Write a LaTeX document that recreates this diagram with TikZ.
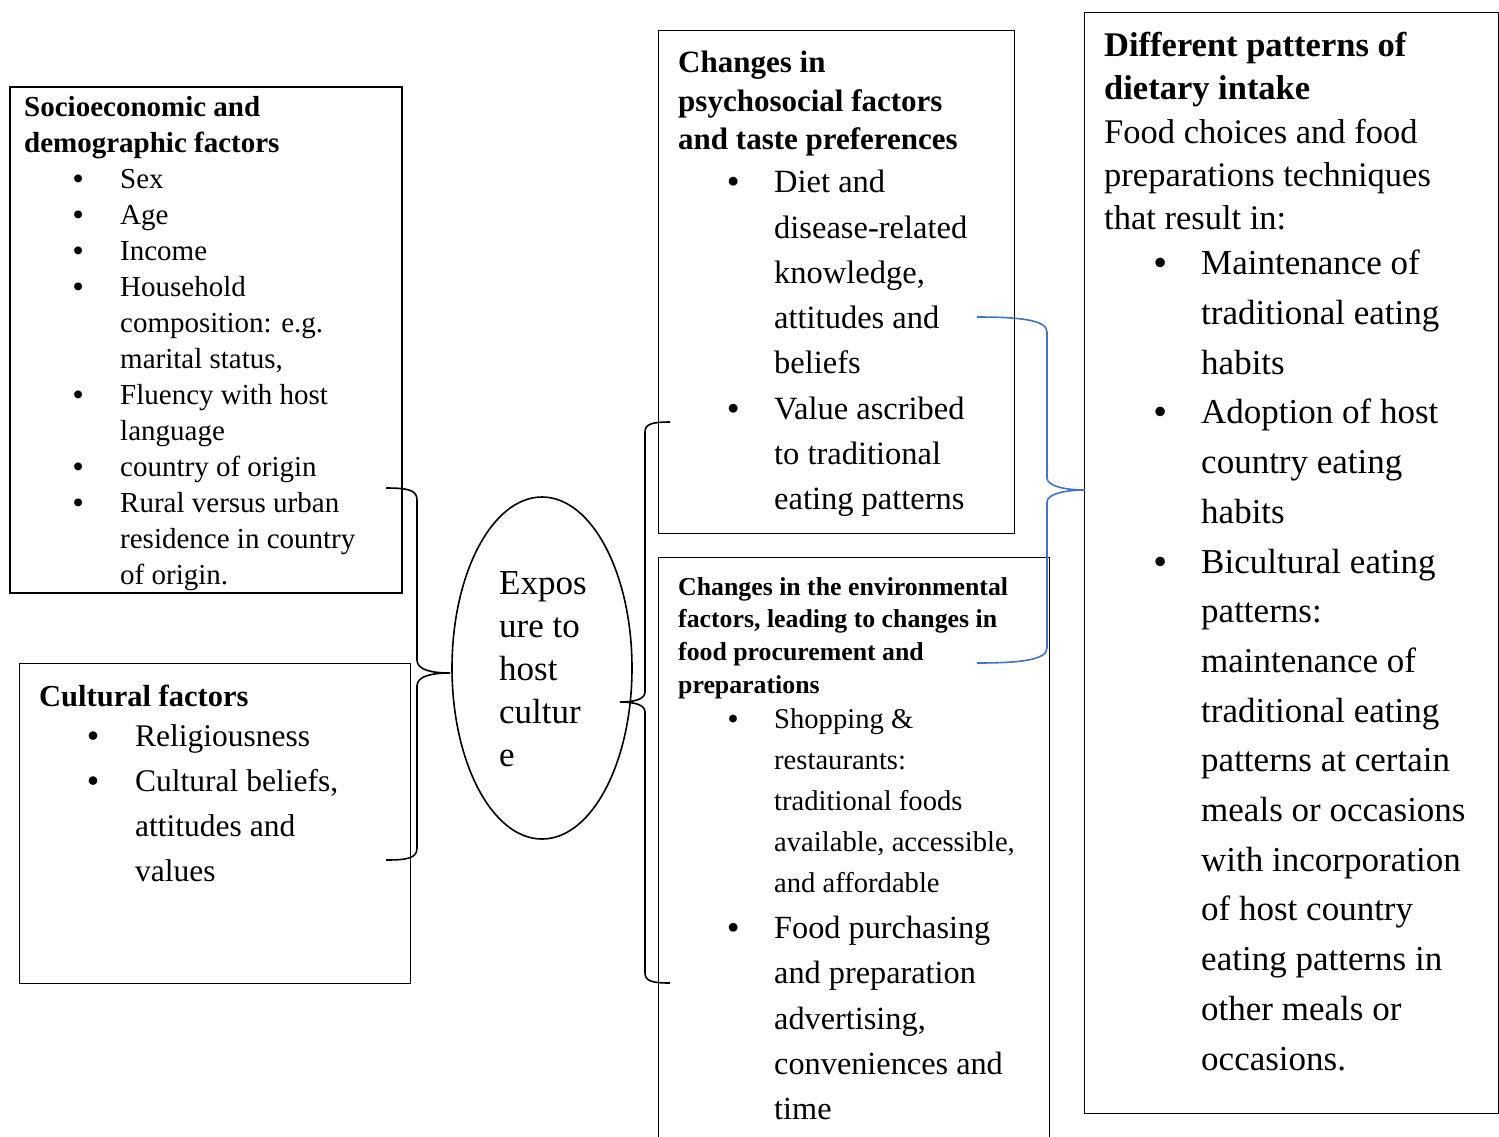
\documentclass[tikz,border=0pt]{standalone}
\usepackage{fontspec}
\setmainfont{Liberation Serif}
\usepackage{xcolor}
\usetikzlibrary{shapes.geometric}
\definecolor{bracecol}{HTML}{4472C4}
\newlength\bulw
\newcommand{\bi}{\makebox[\bulw][l]{\textbf{\textbullet}}}
\newcommand{\co}{\hspace*{\bulw}}
\newcommand{\fs}[2]{\fontsize{#1}{#2}\selectfont}

\begin{document}
\begin{tikzpicture}[x=1pt,y=-1pt,
  box/.style={draw,line width=1.3pt,anchor=north west,inner sep=0pt},
  txt/.style={anchor=north west,inner sep=0pt,align=left},
  brace/.style={line width=1.6pt},
]
\useasboundingbox (0,0) rectangle (1499,1136);

% boxes
\node[box,line width=1.8pt,minimum width=392pt,minimum height=506pt] (socio) at (9,86) {};
\node[box,minimum width=391pt,minimum height=320pt] (cult) at (19,663) {};
\node[box,minimum width=356pt,minimum height=503pt] (psych) at (658,30) {};
\node[box,minimum width=391pt,minimum height=600pt] (env) at (658,557) {};
\node[box,minimum width=414pt,minimum height=1101pt] (diet) at (1084,12) {};
\node[ellipse,draw,line width=1.6pt,minimum width=180pt,minimum height=342pt] (expo) at (542,668) {};

% socioeconomic factors
\node[txt,font=\fs{29}{36}\bfseries] (sociohead) at (24,96)
  {Socioeconomic and\\demographic factors};
\setlength\bulw{47pt}
\node[txt,font=\fs{29}{36}] (socioitems) at (73,169)
  {\bi Sex\\ \bi Age\\ \bi Income\\ \bi Household\\ \co composition: e.g.\\
   \co marital status,\\ \bi Fluency with host\\ \co language\\
   \bi country of origin\\ \bi Rural versus urban\\ \co residence in country\\
   \co of origin.};

% cultural factors
\node[txt,font=\fs{30.5}{40}\bfseries] (culthead) at (39,685) {Cultural factors};
\setlength\bulw{47.5pt}
\node[txt,font=\fs{31.5}{45.3}] (cultitems) at (87.5,724)
  {\bi Religiousness\\ \bi Cultural beliefs,\\ \co attitudes and\\ \co values};

% exposure
\node[txt,font=\fs{35}{43}] (expotext) at (499,571) {Expos\\ure to\\host\\cultur\\e};

% psychosocial factors
\node[txt,font=\fs{31}{38.5}\bfseries] (psychhead) at (678,51)
  {Changes in\\psychosocial factors\\and taste preferences};
\setlength\bulw{46.7pt}
\node[txt,font=\fs{32.5}{45.3}] (psychitems) at (727.3,170)
  {\bi Diet and\\ \co disease-related\\ \co knowledge,\\ \co attitudes and\\
   \co beliefs\\ \bi Value ascribed\\ \co to traditional\\ \co eating patterns};

% environmental factors
\node[txt,font=\fs{25.8}{32.7}\bfseries] (envhead) at (678,577)
  {Changes in the environmental\\factors, leading to changes in\\
   food procurement and\\preparations};
\setlength\bulw{46pt}
\node[txt,font=\fs{28.6}{41}] (envshop) at (728,708)
  {\bi Shopping \&\\ \co restaurants:\\ \co traditional foods\\
   \co available, accessible,\\ \co and affordable};
\setlength\bulw{46.7pt}
\node[txt,font=\fs{32.3}{45.2}] (envfood) at (727.3,916)
  {\bi Food purchasing\\ \co and preparation\\ \co advertising,\\
   \co conveniences and\\ \co time};

% dietary intake
\node[txt,font=\fs{34.5}{43.3}] (diethead) at (1104,32)
  {\textbf{Different patterns of}\\ \textbf{dietary intake}\\
   Food choices and food\\ preparations techniques\\ that result in:};
\setlength\bulw{47pt}
\node[txt,font=\fs{35}{49.7}] (dietitems) at (1154,250)
  {\bi Maintenance of\\ \co traditional eating\\ \co habits\\
   \bi Adoption of host\\ \co country eating\\ \co habits\\
   \bi Bicultural eating\\ \co patterns:\\ \co maintenance of\\
   \co traditional eating\\ \co patterns at certain\\ \co meals or occasions\\
   \co with incorporation\\ \co of host country\\ \co eating patterns in\\
   \co other meals or\\ \co occasions.};

% braces
\coordinate (lbtop) at (386,488);
\coordinate (lbtip) at (450,673);
\coordinate (lbbot) at (386,860);
\draw[brace] (lbtop) .. controls (408,488) and (417,490) .. (417,500) -- (417,660)
  .. controls (417,670) and (432,673) .. (lbtip)
  .. controls (432,673) and (417,676) .. (417,686) -- (417,848)
  .. controls (417,858) and (408,860) .. (lbbot);

\coordinate (mbtop) at (670,422);
\coordinate (mbtip) at (620,702);
\coordinate (mbbot) at (670,983);
\draw[brace] (mbtop) .. controls (652,422) and (645,424) .. (645,432) -- (645,692)
  .. controls (645,699) and (635,702) .. (mbtip)
  .. controls (635,702) and (645,705) .. (645,712) -- (645,973)
  .. controls (645,981) and (652,983) .. (mbbot);

\coordinate (rbtop) at (977,317);
\coordinate (rbtip) at (1085,490);
\coordinate (rbbot) at (977,663);
\draw[brace,bracecol] (rbtop) .. controls (1020,317) and (1047,320) .. (1047,332) -- (1047,478)
  .. controls (1047,486) and (1065,490) .. (rbtip)
  .. controls (1065,490) and (1047,494) .. (1047,502) -- (1047,648)
  .. controls (1047,660) and (1020,663) .. (rbbot);
\end{tikzpicture}
\end{document}
